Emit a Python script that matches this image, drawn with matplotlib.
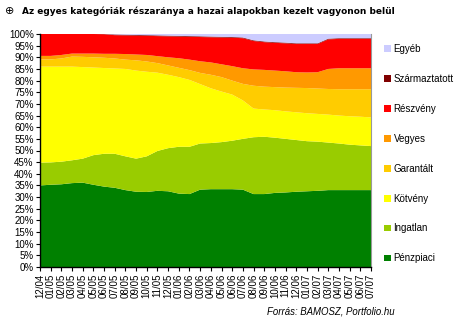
import matplotlib
matplotlib.use('Agg')
import matplotlib.pyplot as plt
import numpy as np

plt.rcParams['font.family'] = ['Liberation Sans', 'DejaVu Sans']

# honapok (12/04 - 07/07)
honapok = ['12/04',
           '01/05', '02/05', '03/05', '04/05', '05/05', '06/05', '07/05', '08/05',
           '09/05', '10/05', '11/05', '12/05',
           '01/06', '02/06', '03/06', '04/06', '05/06', '06/06', '07/06', '08/06',
           '09/06', '10/06', '11/06', '12/06',
           '01/07', '02/07', '03/07', '04/07', '05/07', '06/07', '07/07']

# reszaranyok (%)
penzpiaci = [35, 35.3, 35.5, 36, 36.2, 35.3, 34.5, 34, 33, 32.3, 32.2, 32.7, 32.5, 31.5, 31.3, 33.2,
             33.4, 33.4, 33.4, 33.2, 31.3, 31.3, 31.8, 32, 32.3, 32.5, 32.7, 33, 33, 33, 33, 33]
ingatlan = [9.8, 9.6, 9.7, 9.8, 10.3, 12.7, 14.1, 14.6, 14.5, 14.2, 15.3, 17.1, 18.5, 20.1, 20.3, 19.8,
            19.8, 20.2, 20.8, 21.8, 24.4, 24.6, 23.7, 23, 22.2, 21.5, 21.1, 20.4, 20, 19.5, 19.2, 18.9]
kotveny = [41.2, 41.1, 40.8, 40.2, 39.3, 37.6, 36.8, 36.6, 37.5, 37.8, 36.3, 33.6, 31.5, 29.9, 28.7, 25.5,
           23.5, 21.7, 19.8, 16.5, 12.3, 11.7, 11.8, 11.8, 11.9, 12, 11.9, 12, 12, 12.2, 12.3, 12.3]
garantalt = [3.1, 3.1, 3.5, 4.3, 4.4, 4.4, 4.4, 4.3, 4, 4.4, 4.4, 4.1, 4, 4, 4.2, 4.8,
             5.8, 6.2, 6, 7.1, 9.8, 9.8, 9.9, 10.2, 10.5, 10.8, 10.9, 11, 11.3, 11.6, 11.8, 12.1]
vegyes = [1.5, 1.5, 1.5, 1.3, 1.4, 1.6, 1.7, 2, 2.4, 2.5, 2.8, 3, 3.5, 4.1, 4.5, 5,
          5.3, 5.5, 6.2, 6.7, 7, 7.2, 7.1, 7, 6.7, 6.7, 7, 8.6, 9, 9, 9, 9]
reszveny = [9.4, 9.4, 9, 8.4, 8.4, 8.4, 8.4, 8, 8, 8.1, 8.2, 8.6, 9, 9.3, 9.8, 10.4,
            10.8, 11.5, 12.2, 12.9, 12.2, 11.9, 11.9, 12, 12.1, 12.2, 12.1, 12.7, 12.6, 12.6, 12.6, 12.6]
szarmaztatott = [0, 0, 0, 0, 0, 0, 0.1, 0.3, 0.3, 0.3, 0.3, 0.3, 0.3, 0.3, 0.3, 0.3,
                 0.3, 0.3, 0.3, 0.3, 0.3, 0.3, 0.3, 0.3, 0.3, 0.3, 0.3, 0.3, 0.3, 0.3, 0.3, 0.3]
egyeb = [0, 0, 0, 0, 0, 0, 0, 0.2, 0.3, 0.4, 0.5, 0.6, 0.7, 0.8, 0.9, 1.0,
         1.1, 1.2, 1.3, 1.5, 2.7, 3.2, 3.5, 3.7, 4, 4, 4, 2, 1.8, 1.8, 1.8, 1.8]

nevek = ['Pénzpiaci', 'Ingatlan', 'Kötvény', 'Garantált', 'Vegyes', 'Részvény', 'Származtatott', 'Egyéb']
szinek = ['#008000', '#99CC00', '#FFFF00', '#FFCC00', '#FF9900', '#FF0000', '#800000', '#CCCCFF']

fig = plt.figure(figsize=(4.58, 3.26), dpi=100)
ax = fig.add_axes([40/458, 1-267/326, 331/458, 233/326])

x = np.arange(len(honapok))
ax.stackplot(x, penzpiaci, ingatlan, kotveny, garantalt, vegyes, reszveny, szarmaztatott, egyeb,
             colors=szinek, labels=nevek, linewidth=0)

ax.set_xlim(0, len(honapok) - 1)
ax.set_ylim(0, 100)
ax.set_yticks(np.arange(0, 101, 5))
ax.set_yticklabels(['%d%%' % v for v in range(0, 101, 5)], fontsize=7)
ax.set_xticks(x)
ax.set_xticklabels(honapok, rotation=90, fontsize=7)
ax.tick_params(axis='both', length=3, width=0.8, pad=1.5, colors='black')

ax.spines['top'].set_visible(False)
ax.spines['right'].set_color('#999999')
ax.spines['left'].set_linewidth(1)
ax.spines['bottom'].set_linewidth(1)

# jelmagyarazat: forditott sorrend
h, l = ax.get_legend_handles_labels()
fig.legend(h[::-1], l[::-1], loc='upper left', bbox_to_anchor=(380/458, 1-40/326),
           frameon=False, fontsize=7, handlelength=0.7, handleheight=0.7,
           handletextpad=0.3, labelspacing=2.05, borderaxespad=0)

fig.text(22/458, 1-11/326, 'Az egyes kategóriák részaránya a hazai alapokban kezelt vagyonon belül',
         fontsize=6.5, fontweight='bold', va='center', ha='left', family=['DejaVu Sans'])
fig.text(10/458, 1-11/326, '\u2295', fontsize=8, va='center', ha='center', family=['DejaVu Sans'])

fig.text(331/458, 1-311/326, 'Forrás: BAMOSZ, Portfolio.hu', fontsize=6.9, style='italic',
         ha='center', va='center')

fig.savefig('out.png', dpi=100)
